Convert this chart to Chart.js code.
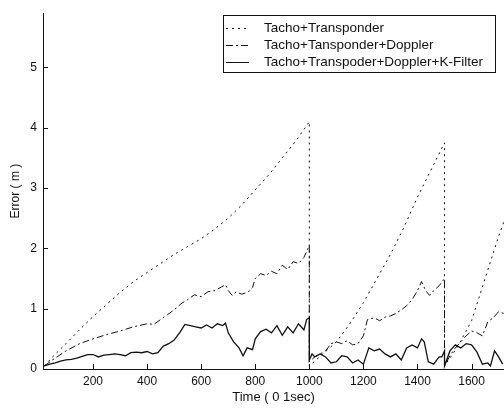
<!DOCTYPE html>
<html>
<head>
  <title>Error vs Time</title>
  <script src="https://cdn.jsdelivr.net/npm/chart.js@4.4.0/dist/chart.umd.min.js"></script>
  <style>
    html, body { margin: 0; padding: 0; background: #fff; }
    #wrap { width: 504px; height: 408px; }
  </style>
</head>
<body>
  <div id="wrap"><canvas id="myChart"></canvas></div>
  <script>
    // series labels (as printed in the legend)
    var seriesLabels = ['Tacho+Transponder', 'Tacho+Tansponder+Doppler', 'Tacho+Transpoder+Doppler+K-Filter'];

    // Tacho+Transponder (dotted)
    var tachoTime = [20,50,100,150,200,250,300,350,400,450,500,550,600,650,700,750,800,850,900,950,1000,
      1000,1050,1100,1150,1200,1250,1300,1350,1400,1450,1500,
      1500,1550,1600,1650,1700,1720];
    var tachoErr = [0.05,0.2,0.42,0.65,0.87,1.07,1.27,1.45,1.6,1.75,1.9,2.03,2.16,2.32,2.5,2.72,2.97,3.22,3.5,3.78,4.1,
      0.05,0.25,0.45,0.75,1.1,1.5,1.9,2.35,2.85,3.3,3.75,
      0.05,0.38,0.8,1.5,2.2,2.45];

    // Tacho+Tansponder+Doppler (dash-dot)
    var dopplerTime = [20,50,100,150,200,250,300,350,400,425,450,475,500,525,550,575,600,625,650,675,690,700,715,730,750,775,790,800,820,840,860,880,900,920,940,960,980,1000,
      1000,1020,1040,1060,1080,1100,1120,1140,1160,1180,1200,1215,1240,1260,1280,1300,1320,1340,1360,1380,1400,1415,1430,1445,1460,1480,1500,
      1500,1520,1540,1560,1580,1600,1620,1640,1660,1680,1700,1720];
    var dopplerErr = [0.05,0.15,0.3,0.42,0.5,0.57,0.63,0.7,0.75,0.74,0.82,0.9,0.98,1.08,1.15,1.23,1.2,1.28,1.3,1.36,1.4,1.3,1.22,1.28,1.24,1.28,1.35,1.5,1.58,1.55,1.62,1.58,1.72,1.65,1.78,1.75,1.85,2.05,
      0.12,0.2,0.25,0.3,0.42,0.45,0.42,0.47,0.4,0.42,0.55,0.82,0.85,0.8,0.86,0.88,0.92,0.98,1.05,1.15,1.3,1.45,1.3,1.22,1.3,1.38,1.5,
      0.05,0.22,0.35,0.45,0.55,0.63,0.6,0.55,0.78,0.85,0.95,0.92];

    // Tacho+Transpoder+Doppler+K-Filter (solid)
    var kfTime = [20,40,60,80,100,120,140,160,180,200,220,240,260,280,300,320,340,360,380,400,420,440,460,480,500,520,540,560,580,600,620,640,660,680,690,700,720,740,755,770,790,800,820,840,860,880,900,920,940,960,980,990,1000,
      1000,1010,1020,1040,1060,1080,1100,1120,1140,1160,1180,1200,1220,1240,1260,1280,1300,1320,1340,1360,1380,1400,1415,1425,1440,1460,1480,1490,1500,
      1500,1520,1540,1560,1580,1600,1620,1640,1660,1670,1685,1700,1715];
    var kfErr = [0.05,0.08,0.1,0.13,0.15,0.16,0.18,0.21,0.24,0.24,0.2,0.23,0.24,0.25,0.24,0.22,0.27,0.28,0.27,0.29,0.25,0.27,0.38,0.42,0.48,0.6,0.74,0.72,0.7,0.68,0.73,0.68,0.75,0.72,0.76,0.6,0.45,0.35,0.22,0.35,0.32,0.5,0.62,0.66,0.6,0.72,0.56,0.7,0.6,0.75,0.65,0.82,0.85,
      0.15,0.25,0.2,0.25,0.2,0.1,0.12,0.22,0.2,0.1,0.15,0.08,0.35,0.3,0.33,0.25,0.2,0.25,0.15,0.35,0.4,0.35,0.5,0.45,0.12,0.08,0.2,0.2,0.3,
      0.05,0.3,0.4,0.35,0.42,0.4,0.28,0.08,0.1,0.05,0.3,0.2,0.08];

    // tick labels
    var xTicks = [200, 400, 600, 800, 1000, 1200, 1400, 1600];
    var yTicks = [0, 1, 2, 3, 4, 5];

    function pts(xs, ys) {
      return xs.map((x, i) => ({ x: x, y: ys[i] }));
    }

    var ink = '#111';
    var dashes = [[2, 4], [7, 3, 2, 3], []];
    var family = '"Liberation Sans", Arial, sans-serif';
    var font = { family: family, size: 12 };
    var titleFont = { family: family, size: 13 };

    // MATLAB-style inward tick marks
    var inwardTicks = {
      id: 'inwardTicks',
      afterDraw(chart) {
        const c = chart.ctx, a = chart.chartArea;
        const xs = chart.scales.x, ys = chart.scales.y;
        c.save();
        c.strokeStyle = ink;
        c.lineWidth = 1;
        c.beginPath();
        xs.ticks.forEach(t => {
          const px = Math.round(xs.getPixelForValue(t.value)) + 0.5;
          c.moveTo(px, a.bottom);
          c.lineTo(px, a.bottom - 5);
        });
        ys.ticks.forEach(t => {
          const py = Math.round(ys.getPixelForValue(t.value)) + 0.5;
          c.moveTo(a.left, py);
          c.lineTo(a.left + 5, py);
        });
        c.stroke();
        c.restore();
      }
    };

    // boxed legend in the upper right, like the original figure
    var boxLegend = {
      id: 'boxLegend',
      afterDraw(chart) {
        const c = chart.ctx;
        const x0 = 223, y0 = 15, w = 272, h = 57;
        c.save();
        c.fillStyle = '#fff';
        c.fillRect(x0, y0, w, h);
        c.strokeStyle = ink;
        c.lineWidth = 1;
        c.strokeRect(x0 + 0.5, y0 + 0.5, w, h);
        c.font = '13.5px ' + family;
        c.textBaseline = 'middle';
        chart.data.datasets.forEach((ds, i) => {
          const y = y0 + 13 + i * 17;
          c.setLineDash(ds.borderDash || []);
          c.lineWidth = 1;
          c.beginPath();
          c.moveTo(x0 + 3, y + 0.5);
          c.lineTo(x0 + 26, y + 0.5);
          c.stroke();
          c.setLineDash([]);
          c.fillStyle = ink;
          c.fillText(ds.label, x0 + 41, y);
        });
        c.restore();
      }
    };

    var ctx = document.getElementById('myChart').getContext('2d');
    var myChart = new Chart(ctx, {
      type: 'scatter',
      data: {
        datasets: [
          { label: seriesLabels[0], data: pts(tachoTime, tachoErr), borderDash: dashes[0], borderWidth: 1 },
          { label: seriesLabels[1], data: pts(dopplerTime, dopplerErr), borderDash: dashes[1], borderWidth: 1 },
          { label: seriesLabels[2], data: pts(kfTime, kfErr), borderDash: dashes[2], borderWidth: 1.3 }
        ].map(d => Object.assign(d, {
          showLine: true,
          borderColor: ink,
          backgroundColor: ink,
          pointRadius: 0,
          pointHoverRadius: 0,
          tension: 0
        }))
      },
      options: {
        responsive: true,
        maintainAspectRatio: false,
        animation: false,
        layout: { padding: { top: 10, right: 0, left: 0, bottom: 0 } },
        plugins: {
          legend: { display: false },
          tooltip: { enabled: false }
        },
        scales: {
          x: {
            type: 'linear',
            min: 15,
            max: 1720,
            afterBuildTicks: s => { s.ticks = xTicks.map(v => ({ value: v })); },
            afterFit: s => { s.height = 39; },
            grid: { display: true, drawOnChartArea: false, drawTicks: false },
            border: { display: true, color: ink, width: 1 },
            ticks: { color: ink, font: font, padding: 5, maxRotation: 0, callback: v => String(v) },
            title: { display: true, text: 'Time ( 0 1sec)', color: ink, font: titleFont, padding: { top: 2, bottom: 3 } }
          },
          y: {
            type: 'linear',
            min: 0,
            max: 5.9,
            afterBuildTicks: s => { s.ticks = yTicks.map(v => ({ value: v })); },
            afterFit: s => { s.width = 43; },
            grid: { display: true, drawOnChartArea: false, drawTicks: false },
            border: { display: true, color: ink, width: 1 },
            ticks: { color: ink, font: font, padding: 6, callback: v => String(v) },
            title: { display: true, text: 'Error ( m )', color: ink, font: font, padding: { top: 8, bottom: 2 } }
          }
        }
      },
      plugins: [inwardTicks, boxLegend]
    });
  </script>
</body>
</html>
